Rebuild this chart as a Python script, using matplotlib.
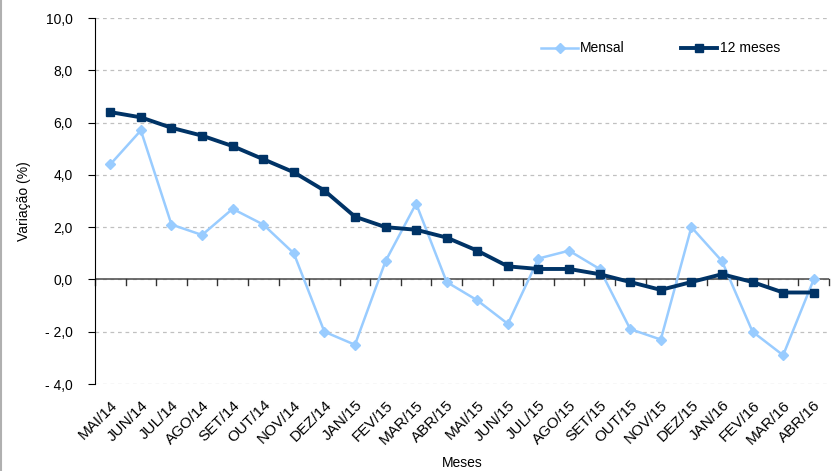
import numpy as np
import matplotlib.pyplot as plt
from matplotlib.ticker import FuncFormatter

plt.rcParams['font.family'] = ['Liberation Sans', 'DejaVu Sans']

meses = ["MAI/14", "JUN/14", "JUL/14", "AGO/14", "SET/14", "OUT/14", "NOV/14", "DEZ/14",
         "JAN/15", "FEV/15", "MAR/15", "ABR/15", "MAI/15", "JUN/15", "JUL/15", "AGO/15",
         "SET/15", "OUT/15", "NOV/15", "DEZ/15", "JAN/16", "FEV/16", "MAR/16", "ABR/16"]
mensal = [4.4, 5.7, 2.1, 1.7, 2.7, 2.1, 1.0, -2.0, -2.5, 0.7, 2.9, -0.1,
          -0.8, -1.7, 0.8, 1.1, 0.4, -1.9, -2.3, 2.0, 0.7, -2.0, -2.9, 0.0]
doze_meses = [6.4, 6.2, 5.8, 5.5, 5.1, 4.6, 4.1, 3.4, 2.4, 2.0, 1.9, 1.6,
              1.1, 0.5, 0.4, 0.4, 0.2, -0.1, -0.4, -0.1, 0.2, -0.1, -0.5, -0.5]

x = np.arange(len(meses))

fig = plt.figure(figsize=(8.38, 4.71), dpi=100)
ax = fig.add_axes([95 / 838, 1 - 384 / 471, (829 - 95) / 838, (384 - 18) / 471])

ax.plot(x, mensal, color="#99ccff", lw=1.8, marker="D", ms=5, label="Mensal", zorder=3)
ax.plot(x, doze_meses, color="#003366", lw=2.8, marker="s", ms=6, label="12 meses", zorder=4)

ax.set_xlim(-0.5, len(meses) - 0.5)
ax.set_ylim(-4, 10)
ax.set_yticks(np.arange(-4, 10.1, 2))

def fmt(v, pos):
    s = f"{abs(v):.1f}".replace(".", ",")
    return "- " + s if v < 0 else s

ax.yaxis.set_major_formatter(FuncFormatter(fmt))
ax.grid(axis="y", color="#c0c0c0", ls=(0, (3, 3)), lw=0.9)
ax.set_axisbelow(True)

for s in ["top", "right", "bottom"]:
    ax.spines[s].set_visible(False)
ax.spines["left"].set_color("black")

# x axis along zero with ticks between categories
ax.axhline(0, color="#555555", lw=1.2, zorder=2)
ax.set_xticks(x)
ax.set_xticklabels(meses, rotation=45, ha="right", rotation_mode="anchor", fontsize=11)
ax.tick_params(axis="x", length=0, pad=10)
for b in np.arange(-0.5, len(meses), 1.0):
    ax.plot([b, b], [0, -0.2], color="#333333", lw=1, zorder=2, clip_on=False)

ax.tick_params(axis="y", labelsize=10, length=5, direction="out", colors="black", pad=11)

ax.set_ylabel("Variação (%)", fontsize=10, labelpad=10)
fig.text(462 / 838, 1 - 463 / 471, "Meses", ha="center", va="center", fontsize=10)

ax.legend(loc="upper right", bbox_to_anchor=(0.95, 0.97), ncol=2, frameon=False,
          fontsize=10, handlelength=2.6, columnspacing=4, handletextpad=0.2)

fig.add_artist(plt.Line2D([0.001, 0.001], [0, 1], color="#b0b0b0", lw=1.5))

plt.savefig("out.png", dpi=100)
